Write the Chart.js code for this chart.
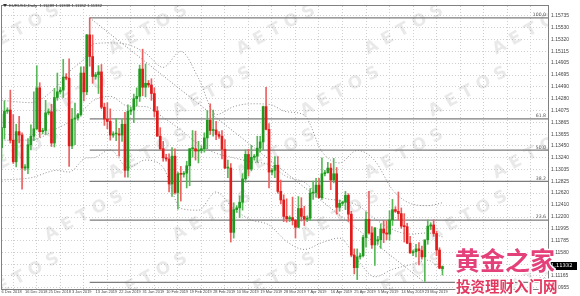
<!DOCTYPE html>
<html>
<head>
<meta charset="utf-8">
<script src="https://cdn.jsdelivr.net/npm/chart.js@4.4.0/dist/chart.umd.min.js"></script>
<style>
  html, body { margin: 0; padding: 0; background: #fff; }
  #wrap { width: 580px; height: 296px; }
</style>
</head>
<body>
<div id="wrap"><canvas id="canvas"></canvas></div>
<script>
// one label every 8 bars (bar 0, 8, 16 ...)
var dateLabels = ["6 Dec 2018", "16 Dec 2018", "25 Dec 2018", "3 Jan 2019", "13 Jan 2019", "22 Jan 2019",
    "31 Jan 2019", "10 Feb 2019", "19 Feb 2019", "28 Feb 2019", "10 Mar 2019", "19 Mar 2019", "28 Mar 2019",
    "7 Apr 2019", "16 Apr 2019", "25 Apr 2019", "5 May 2019", "14 May 2019", "23 May 2019"];

var opens = [1.1342,1.1377,1.1406,1.1408,1.1355,1.1317,1.1370,1.1364,1.1306,1.1306,
    1.1347,1.1362,1.1375,1.1447,1.1370,1.1372,1.1403,1.1405,1.1350,1.1430,
    1.1440,1.1443,1.1466,1.1464,1.1345,1.1392,1.1394,1.1400,1.1473,1.1440,
    1.1540,1.1502,1.1467,1.1470,1.1475,1.1413,1.1392,1.1388,1.1364,1.1366,
    1.1366,1.1364,1.1383,1.1302,1.1406,1.1408,1.1428,1.1432,1.1480,1.1448,
    1.1455,1.1452,1.1437,1.1406,1.1362,1.1340,1.1324,1.1322,1.1278,1.1327,
    1.1263,1.1296,1.1295,1.1297,1.1310,1.1340,1.1340,1.1336,1.1337,1.1340,
    1.1359,1.1390,1.1372,1.1373,1.1365,1.1362,1.1339,1.1306,1.1306,1.1193,
    1.1233,1.1236,1.1246,1.1287,1.1330,1.1304,1.1325,1.1327,1.1341,1.1352,
    1.1414,1.1374,1.1299,1.1302,1.1311,1.1265,1.1250,1.1221,1.1217,1.1219,
    1.1214,1.1202,1.1235,1.1221,1.1216,1.1218,1.1262,1.1263,1.1276,1.1254,
    1.1296,1.1298,1.1306,1.1285,1.1296,1.1237,1.1244,1.1246,1.1258,1.1225,
    1.1153,1.1131,1.1150,1.1152,1.1184,1.1216,1.1192,1.1171,1.1178,1.1180,
    1.1199,1.1192,1.1190,1.1215,1.1233,1.1230,1.1226,1.1204,1.1203,1.1174,
    1.1157,1.1159,1.1164,1.1161,1.1150,1.1180,1.1204,1.1206,1.1191,1.1162,
    1.1129];
var highs = [1.1401,1.1424,1.1412,1.1443,1.1400,1.1383,1.1397,1.1368,1.1312,1.1358,
    1.1382,1.1440,1.1486,1.1456,1.1376,1.1425,1.1410,1.1418,1.1446,1.1473,
    1.1448,1.1497,1.1472,1.1498,1.1411,1.1420,1.1402,1.1484,1.1484,1.1541,
    1.1570,1.1540,1.1474,1.1486,1.1488,1.1420,1.1421,1.1410,1.1370,1.1393,
    1.1376,1.1391,1.1404,1.1417,1.1413,1.1436,1.1447,1.1487,1.1515,1.1489,
    1.1460,1.1463,1.1447,1.1414,1.1377,1.1353,1.1330,1.1331,1.1342,1.1340,
    1.1299,1.1309,1.1300,1.1318,1.1340,1.1372,1.1371,1.1353,1.1345,1.1368,
    1.1407,1.1419,1.1408,1.1388,1.1370,1.1372,1.1356,1.1320,1.1314,1.1245,
    1.1240,1.1257,1.1296,1.1338,1.1339,1.1346,1.1330,1.1362,1.1362,1.1415,
    1.1448,1.1384,1.1305,1.1326,1.1326,1.1285,1.1259,1.1252,1.1222,1.1255,
    1.1216,1.1256,1.1254,1.1239,1.1222,1.1270,1.1283,1.1288,1.1288,1.1324,
    1.1302,1.1316,1.1314,1.1323,1.1307,1.1250,1.1248,1.1265,1.1261,1.1230,
    1.1164,1.1164,1.1156,1.1188,1.1229,1.1265,1.1203,1.1201,1.1186,1.1208,
    1.1214,1.1213,1.1231,1.1251,1.1238,1.1264,1.1236,1.1226,1.1209,1.1186,
    1.1162,1.1172,1.1175,1.1169,1.1179,1.1215,1.1210,1.1215,1.1195,1.1166,
    1.1134];
var lows = [1.1320,1.1357,1.1402,1.1350,1.1314,1.1308,1.1350,1.1269,1.1302,1.1296,
    1.1338,1.1354,1.1373,1.1360,1.1366,1.1365,1.1400,1.1344,1.1343,1.1425,
    1.1436,1.1430,1.1461,1.1309,1.1340,1.1347,1.1390,1.1397,1.1424,1.1435,
    1.1485,1.1455,1.1462,1.1437,1.1410,1.1381,1.1375,1.1355,1.1360,1.1354,
    1.1327,1.1353,1.1290,1.1290,1.1400,1.1386,1.1415,1.1423,1.1433,1.1431,
    1.1448,1.1425,1.1396,1.1362,1.1338,1.1318,1.1318,1.1264,1.1256,1.1260,
    1.1234,1.1248,1.1290,1.1271,1.1275,1.1325,1.1320,1.1315,1.1333,1.1334,
    1.1340,1.1365,1.1362,1.1356,1.1358,1.1322,1.1305,1.1289,1.1176,1.1183,
    1.1228,1.1219,1.1232,1.1281,1.1292,1.1301,1.1320,1.1316,1.1334,1.1338,
    1.1373,1.1271,1.1294,1.1289,1.1262,1.1243,1.1212,1.1211,1.1212,1.1206,
    1.1183,1.1201,1.1213,1.1205,1.1212,1.1214,1.1251,1.1255,1.1253,1.1251,
    1.1292,1.1297,1.1268,1.1280,1.1225,1.1230,1.1240,1.1233,1.1212,1.1150,
    1.1120,1.1110,1.1146,1.1150,1.1167,1.1190,1.1165,1.1135,1.1172,1.1165,
    1.1175,1.1180,1.1179,1.1205,1.1228,1.1215,1.1200,1.1176,1.1173,1.1156,
    1.1152,1.1150,1.1136,1.1146,1.1107,1.1172,1.1198,1.1186,1.1152,1.1129,
    1.1118];
var closes = [1.1377,1.1406,1.1408,1.1355,1.1317,1.1370,1.1364,1.1306,1.1308,1.1347,
    1.1362,1.1375,1.1447,1.1370,1.1372,1.1403,1.1405,1.1350,1.1430,1.1440,
    1.1443,1.1466,1.1464,1.1345,1.1392,1.1394,1.1400,1.1473,1.1440,1.1540,
    1.1502,1.1467,1.1470,1.1475,1.1413,1.1392,1.1388,1.1364,1.1366,1.1366,
    1.1364,1.1383,1.1302,1.1406,1.1408,1.1428,1.1432,1.1480,1.1448,1.1455,
    1.1452,1.1437,1.1406,1.1362,1.1340,1.1324,1.1322,1.1278,1.1327,1.1263,
    1.1296,1.1295,1.1297,1.1310,1.1340,1.1340,1.1336,1.1337,1.1340,1.1359,
    1.1390,1.1372,1.1373,1.1365,1.1362,1.1339,1.1306,1.1306,1.1193,1.1233,
    1.1236,1.1246,1.1287,1.1330,1.1304,1.1325,1.1327,1.1341,1.1352,1.1414,
    1.1374,1.1299,1.1302,1.1311,1.1265,1.1250,1.1221,1.1217,1.1219,1.1214,
    1.1202,1.1235,1.1221,1.1216,1.1218,1.1262,1.1263,1.1276,1.1254,1.1296,
    1.1298,1.1306,1.1285,1.1296,1.1237,1.1244,1.1246,1.1258,1.1225,1.1153,
    1.1131,1.1150,1.1152,1.1184,1.1216,1.1192,1.1171,1.1201,1.1180,1.1199,
    1.1192,1.1190,1.1215,1.1233,1.1230,1.1226,1.1204,1.1203,1.1174,1.1157,
    1.1159,1.1164,1.1161,1.1150,1.1180,1.1204,1.1206,1.1191,1.1162,1.1130,
    1.1133];

// right-hand price scale labels
var priceTicks = [1.15735,1.15530,1.15320,1.15115,1.14905,1.14695,1.14490,1.14280,1.14075,1.13865,
    1.13655,1.13450,1.13240,1.13035,1.12825,1.12620,1.12410,1.12200,1.11995,1.11785,
    1.11580,1.11370,1.11165,1.10955];

// fibonacci retracement, Jan 10 high to May 23 low
var fibNames = ["100.0", "61.8", "50.0", "38.2", "23.6", "0.0"];
var fibPrices = [1.1570, 1.13924, 1.13375, 1.12826, 1.12147, 1.1105];
var fibFromBar = 30, fibToBar = 144;

// bollinger bands
var bandBars   = [0,10,19,23,29,31,37,43,49,55,61,67,73,79,85,91,97,103,109,115,121,127,133,139,145,150];
var bandUpper  = [1.1425,1.1421,1.1450,1.1475,1.1504,1.1524,1.1526,1.1523,1.1508,1.1483,1.1511,1.1464,1.1400,
    1.1414,1.1419,1.1418,1.1405,1.1399,1.1335,1.1315,1.1337,1.1319,1.1268,1.1244,1.1240,1.1245];
var bandMiddle = [1.1355,1.1355,1.1376,1.1387,1.1414,1.1424,1.1432,1.1415,1.1414,1.1395,1.1373,1.1348,1.1332,
    1.1324,1.1317,1.1312,1.1291,1.1281,1.1255,1.1249,1.1241,1.1217,1.1198,1.1190,1.1192,1.1185];
var bandLower  = [1.1285,1.1289,1.1302,1.1299,1.1324,1.1324,1.1338,1.1307,1.1320,1.1307,1.1235,1.1232,1.1264,
    1.1234,1.1215,1.1206,1.1177,1.1163,1.1175,1.1183,1.1145,1.1115,1.1128,1.1136,1.1144,1.1125];

var lastPrice = 1.11332;
var title = "EURUSD,Daily  1.11289 1.11338 1.11182 1.11332";

var upColor = '#1f9a1f', downColor = '#e31a1a';
var bodies = opens.map(function (o, i) { return { x: i, y: [o, closes[i]] }; });
var wicks = lows.map(function (l, i) { return { x: i, y: [l, highs[i]] }; });
var bodyColors = opens.map(function (o, i) { return closes[i] >= o ? upColor : downColor; });
var wickColors = opens.map(function (o, i) { return closes[i] >= o ? '#58b858' : '#ec6060'; });

function pts(xs, ys) { return xs.map(function (x, i) { return { x: x, y: ys[i] }; }); }

var datasets = [
    { type: 'bar', data: bodies, backgroundColor: bodyColors, barThickness: 2, minBarLength: 1, grouped: false, order: 0 },
    { type: 'bar', data: wicks, backgroundColor: wickColors, barThickness: 1, grouped: false, order: 1 }
];
var bandStyle = { type: 'line', pointRadius: 0, borderWidth: 1, borderColor: '#8c8c8c', borderDash: [1, 2], cubicInterpolationMode: 'monotone', order: 3 };
[bandUpper, bandMiddle, bandLower].forEach(function (b) {
    datasets.push(Object.assign({ data: pts(bandBars, b) }, bandStyle));
});
fibPrices.forEach(function (p) {
    datasets.push({ type: 'line', data: [{ x: fibFromBar, y: p }, { x: 185.9, y: p }], pointRadius: 0,
        borderWidth: 1.2, borderColor: '#7d7d7d', order: 2 });
});
datasets.push({ type: 'line', data: [{ x: fibFromBar, y: fibPrices[0] }, { x: fibToBar, y: fibPrices[5] }],
    pointRadius: 0, borderWidth: 1, borderColor: '#7d7d7d', borderDash: [1, 2], order: 2 });

var watermark = {
    id: 'watermark',
    beforeDatasetsDraw: function (chart) {
        var ctx = chart.ctx, a = chart.chartArea;
        ctx.save();
        ctx.beginPath(); ctx.rect(a.left, a.top, a.right - a.left, a.bottom - a.top); ctx.clip();
        ctx.font = 'bold 17px "DejaVu Sans"';
        ctx.fillStyle = 'rgba(120,120,120,0.16)';
        ctx.textAlign = 'center'; ctx.textBaseline = 'middle';
        for (var row = 0; row < 5; row++) {
            for (var col = 0; col < 6; col++) {
                var cx = 20 + col * 128 + (row % 2) * 64, cy = 30 + row * 62;
                ctx.save(); ctx.translate(cx, cy); ctx.rotate(-0.5);
                ctx.fillText('A E T O S', 0, 0);
                ctx.restore();
            }
        }
        ctx.restore();
    }
};

var overlay = {
    id: 'overlay',
    afterDraw: function (chart) {
        var ctx = chart.ctx, a = chart.chartArea, y = chart.scales.y;
        ctx.save();
        ctx.strokeStyle = '#808080'; ctx.lineWidth = 1;
        ctx.strokeRect(a.left - 0.5, a.top - 0.5, a.right - a.left + 1, a.bottom - a.top + 1);

        ctx.font = '4.6px "DejaVu Sans"'; ctx.fillStyle = '#555';
        ctx.textAlign = 'right'; ctx.textBaseline = 'bottom';
        fibPrices.forEach(function (p, i) { ctx.fillText(fibNames[i], a.right - 2, y.getPixelForValue(p) - 0.5); });

        var py = Math.round(y.getPixelForValue(lastPrice));
        ctx.fillStyle = '#000'; ctx.fillRect(a.right + 1, py - 4, 28, 8);
        ctx.fillStyle = '#fff'; ctx.textAlign = 'left'; ctx.textBaseline = 'middle';
        ctx.font = '5.2px "DejaVu Sans"';
        ctx.fillText(lastPrice.toFixed(5), a.right + 3, py);

        ctx.fillStyle = '#333'; ctx.font = '4.2px "Liberation Sans"';
        ctx.fillText(title, 9, 6);
        ctx.beginPath(); ctx.moveTo(3, 4); ctx.lineTo(7, 4); ctx.lineTo(5, 7); ctx.closePath(); ctx.fill();

        ctx.textAlign = 'left'; ctx.textBaseline = 'alphabetic';
        ctx.lineJoin = 'round';
        ctx.font = 'bold 25px "Noto Sans CJK SC"';
        ctx.strokeStyle = '#fff'; ctx.lineWidth = 3;
        ctx.strokeText('黄金之家', 455, 270); ctx.fillStyle = '#e4417a'; ctx.fillText('黄金之家', 455, 270);
        ctx.font = 'bold 14.5px "Noto Sans CJK SC"';
        ctx.strokeText('投资理财入门网', 456, 292); ctx.fillStyle = '#e2385f'; ctx.fillText('投资理财入门网', 456, 292);
        ctx.restore();
    }
};

window.onload = function () {
    var ctx = document.getElementById("canvas").getContext("2d");
    window.PriceChart = new Chart(ctx, {
        type: 'bar',
        data: { datasets: datasets },
        options: {
            responsive: true,
            maintainAspectRatio: false,
            animation: false,
            layout: { padding: { left: 2, top: 2, right: 0, bottom: 0 } },
            plugins: { legend: { display: false }, tooltip: { enabled: false } },
            scales: {
                x: {
                    type: 'linear', min: 0.17, max: 185.9, offset: false,
                    grid: { color: '#cfcfcf', drawTicks: false },
                    border: { display: false, dash: [1, 2] },
                    afterBuildTicks: function (s) {
                        s.ticks = [];
                        for (var i = 0; i <= 184; i += 8) s.ticks.push({ value: i });
                    },
                    ticks: {
                        autoSkip: false, maxRotation: 0, align: 'start', padding: 1, color: '#444',
                        font: { size: 3.95, family: 'Liberation Sans' },
                        callback: function (v) { return dateLabels[v / 8] || ''; }
                    },
                    afterFit: function (s) { s.height = 7; }
                },
                y: {
                    type: 'linear', position: 'right', min: 1.10935, max: 1.15908,
                    grid: { color: '#cfcfcf', drawTicks: false },
                    border: { display: false, dash: [1, 2] },
                    afterBuildTicks: function (s) {
                        s.ticks = priceTicks.map(function (v) { return { value: v }; });
                    },
                    ticks: {
                        padding: 3, color: '#444', font: { size: 5, family: 'Liberation Sans' },
                        callback: function (v) { return v.toFixed(5); }
                    },
                    afterFit: function (s) { s.width = 32; }
                }
            }
        },
        plugins: [watermark, overlay]
    });
};
</script>
</body>
</html>
